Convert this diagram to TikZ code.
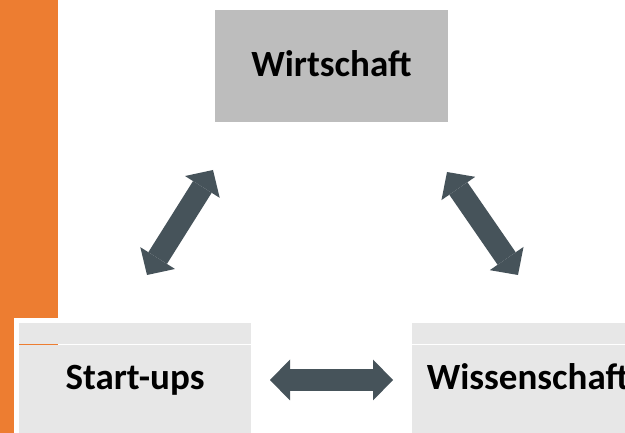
\documentclass[tikz,border=0pt]{standalone}
\usepackage{fontspec}
\setmainfont{Carlito}
\usetikzlibrary{arrows.meta}
\definecolor{barorange}{HTML}{ED7D31}
\definecolor{darkbox}{HTML}{BDBDBD}
\definecolor{lightbox}{HTML}{E7E7E7}
\definecolor{arrowgray}{HTML}{46535A}
\begin{document}
\begin{tikzpicture}[x=1pt,y=-1pt,
  label/.style={font=\fontsize{37}{44}\selectfont\bfseries, text height=26pt, text depth=4pt, inner sep=0pt},
  topbox/.style={label, rectangle, fill=darkbox, minimum width=233pt, minimum height=112pt},
  lowbox/.style={label, rectangle, fill=lightbox, draw=white, line width=5pt, minimum width=237pt, minimum height=117pt},
  link/.style={arrowgray, line width=22pt,
    {Triangle[length=20pt,width=41pt,line width=0pt]}-{Triangle[length=20pt,width=41pt,line width=0pt]}}]
  \useasboundingbox (0,0) rectangle (625,433);
  \clip (0,0) rectangle (625,433);
  \fill[barorange] (0,0) rectangle (58,433);
  \node [topbox](Wirtschaft) at (331.5,66) {Wirtschaft};
  \node [lowbox](StartUps) at (135,379) {Start-ups};
  \node [lowbox](Wissenschaft) at (528,379) {Wissenschaft};
  \draw [white, line width=1.2pt] (19,344.5) -- (251,344.5) (412,344.5) -- (625,344.5);
  \draw [barorange, line width=1.2pt] (19,344.5) -- (58,344.5);
  % arrow ends
  \coordinate (SU-a) at (147,275);
  \coordinate (W-a)  at (213,170);
  \coordinate (W-b)  at (447,172);
  \coordinate (WS-a) at (518,275);
  \coordinate (SU-b) at (270,380);
  \coordinate (WS-b) at (393,380);
  \draw [link] (SU-a) -- (W-a);
  \draw [link] (W-b) -- (WS-a);
  \draw [link] (SU-b) -- (WS-b);
\end{tikzpicture}
\end{document}
